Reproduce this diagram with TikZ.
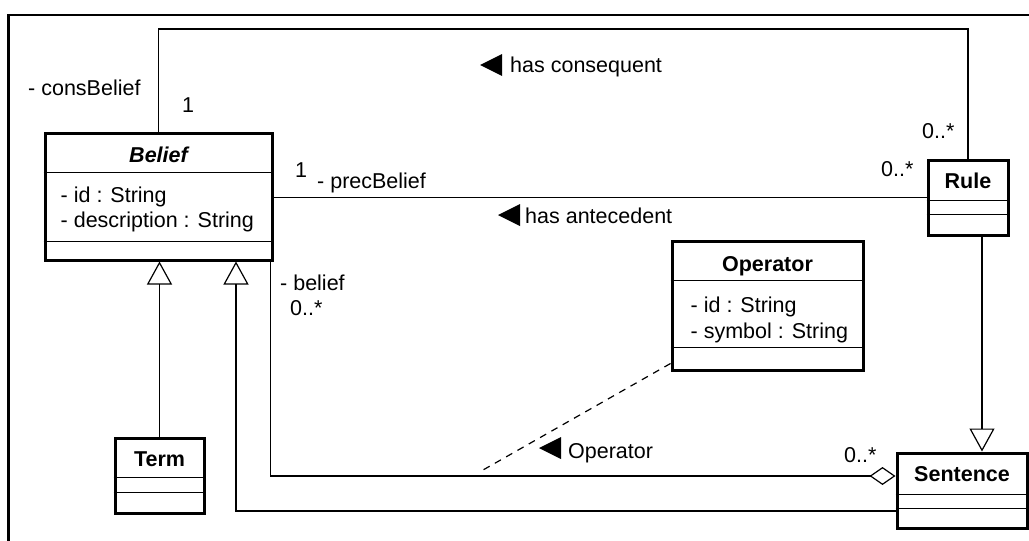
\documentclass[tikz,border=0pt]{standalone}
\usepackage{fontspec}
\setmainfont{Liberation Sans}
\usetikzlibrary{calc}
\usetikzlibrary{arrows.meta}

\begin{document}
\begin{tikzpicture}[x=1pt,y=-1pt,
  every node/.style={font=\fontsize{21.5}{25}\selectfont, inner sep=0pt},
  classbox/.style={draw, line width=3pt, fill=white},
  sep/.style={line width=1.2pt},
  assoc/.style={line width=1.2pt},
  gen/.style={line width=1.2pt, -{Triangle[open,length=23pt,width=25pt]}},
  aggr/.style={line width=1.2pt, -{Diamond[open,length=26pt,width=18pt]}},
  title/.style={anchor=base, font=\fontsize{21.5}{25}\selectfont\bfseries},
  lbl/.style={anchor=base west}]
\useasboundingbox (0,0) rectangle (1029,541);
\draw[line width=2.5pt] (8.5,541) -- (8.5,15) -- (1029,15);

\node[classbox, minimum width=227pt, minimum height=127pt] (belief) at (158.5,196.5) {};
\node[classbox, minimum width=80pt, minimum height=75pt] (rule) at (968,197.5) {};
\node[classbox, minimum width=191pt, minimum height=129pt] (operator) at (767.5,305.5) {};
\node[classbox, minimum width=89pt, minimum height=75pt] (term) at (159.5,475.5) {};
\node[classbox, minimum width=130pt, minimum height=75pt] (sentence) at (962,490.5) {};
\foreach \c/\a/\b in {belief/41/110, rule/42/56, operator/41/108, term/41/56, sentence/43/57} {
 \draw[sep] ($(\c.north west)+(0,\a)$) -- ($(\c.north east)+(0,\a)$);
 \draw[sep] ($(\c.north west)+(0,\b)$) -- ($(\c.north east)+(0,\b)$);
}
\node[title] (belief-title) at ($(belief.north)+(0,31)$) {\itshape Belief};
\node[title] (rule-title) at ($(rule.north)+(0,30)$) {Rule};
\node[title] (operator-title) at ($(operator.north)+(0,32)$) {Operator};
\node[title] (term-title) at ($(term.north)+(0,30)$) {Term};
\node[title] (sentence-title) at ($(sentence.north)+(0,30)$) {Sentence};
\node[lbl] (belief-id) at ($(belief.north west)+(17,71)$) {- id : String};
\node[lbl] (belief-desc) at ($(belief.north west)+(17,96)$) {- description : String};
\node[lbl] (operator-id) at ($(operator.north west)+(20,73)$) {- id : String};
\node[lbl] (operator-sym) at ($(operator.north west)+(20,99)$) {- symbol : String};

\coordinate (cons) at (968,29);
\draw[assoc] (belief.north) |- (cons) -- (rule.north);
\draw[assoc] (rule.west) -- (rule.west -| belief.east);
\draw[aggr] ($(belief.south east)+(-3,0)$) |- ($(sentence.west)+(0,-14.5)$);
\draw[gen] ($(sentence.west)+(0,20.5)$) -| ($(belief.south)+(77.5,0)$);
\draw[gen] (term.north) -- (term.north |- belief.south);
\draw[gen] ($(rule.south)+(14,0)$) coordinate (rs) -- (rs |- sentence.north);
\coordinate (opend) at (483,470);
\draw[assoc, dash pattern=on 7pt off 6pt] ($(operator.south west)+(0,-8)$) -- (opend);

\foreach \tx/\ty in {480/65, 498/215, 539/448}
 \fill (\tx,\ty) -- ++(22,-11) -- ++(0,22) -- cycle;
\node[lbl] (cons-role) at (28,95) {- consBelief};
\node[lbl] (cons-m1) at (182,112) {1};
\node[lbl] (cons-m2) at (922,138) {0..*};
\node[lbl] (cons-name) at (510,72) {has consequent};
\node[lbl] (prec-m1) at (295,177) {1};
\node[lbl] (prec-role) at (317,188) {- precBelief};
\node[lbl] (prec-m2) at (881,176) {0..*};
\node[lbl] (prec-name) at (525,223) {has antecedent};
\node[lbl] (bel-role) at (280,290) {- belief};
\node[lbl] (bel-m1) at (290,315) {0..*};
\node[lbl] (bel-m2) at (844,462) {0..*};
\node[lbl] (op-name) at (568,458) {Operator};
\end{tikzpicture}
\end{document}
